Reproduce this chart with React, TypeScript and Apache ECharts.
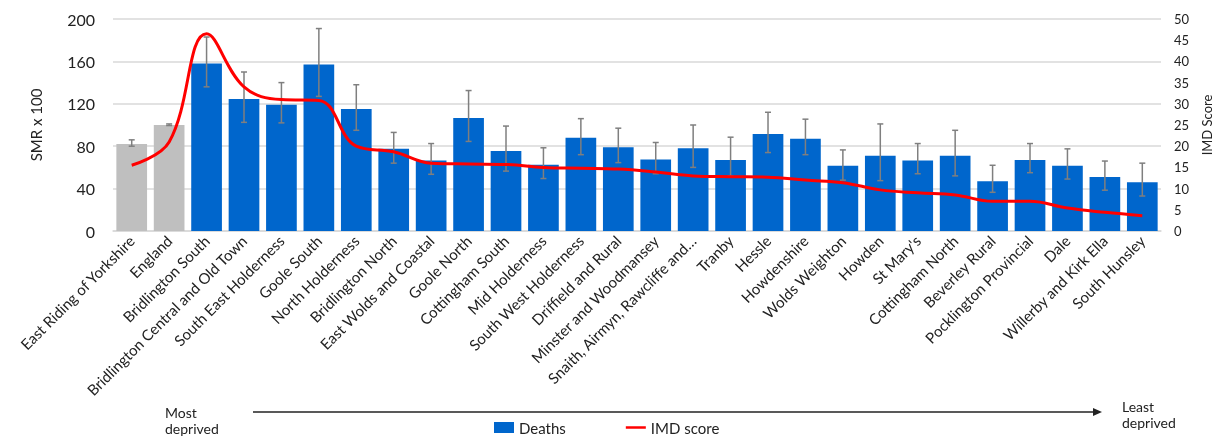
import React, { useEffect, useRef } from "react";
import * as echarts from "echarts";

const categories = [
  "East Riding of Yorkshire", "England", "Bridlington South", "Bridlington Central and Old Town",
  "South East Holderness", "Goole South", "North Holderness", "Bridlington North",
  "East Wolds and Coastal", "Goole North", "Cottingham South", "Mid Holderness",
  "South West Holderness", "Driffield and Rural", "Minster and Woodmansey",
  "Snaith, Airmyn, Rawcliffe and…", "Tranby", "Hessle", "Howdenshire", "Wolds Weighton",
  "Howden", "St Mary's", "Cottingham North", "Beverley Rural", "Pocklington Provincial",
  "Dale", "Willerby and Kirk Ella", "South Hunsley",
];

const smr = [82, 100, 158, 124.5, 119, 157, 115, 77.5, 66.5, 106.5, 75.5, 62.5, 88, 79, 67.5, 78, 67, 91.5, 87, 61.5, 71, 66.5, 71, 47, 67, 61.5, 51, 46];
const smrLower = [80, 99.5, 136, 102.5, 102, 127, 95, 64, 53.5, 84.5, 56.5, 49.5, 72, 64.5, 54, 60, 52, 74, 72, 48, 47.5, 54, 52, 36.5, 55, 49, 38.5, 33];
const smrUpper = [86, 101, 183, 150, 140, 191, 138, 93, 82.5, 132.5, 99, 78.5, 106, 97, 83.5, 100, 88.5, 112, 105.5, 76.5, 101, 82.5, 95, 62, 82.5, 77.5, 66, 64];
const imd = [15.5, 21, 46.5, 34, 31, 30.8, 20, 18.7, 16, 15.8, 15.7, 15, 14.8, 14.6, 13.9, 13, 12.8, 12.7, 12, 11.4, 9.7, 9, 8.5, 7, 7, 5.4, 4.4, 3.6];
const greyCount = 2;

const leftTicks = { min: 0, max: 200, interval: 40 };
const rightTicks = { min: 0, max: 50, interval: 5 };

const FONT = "Lato";
const BLUE = "#0066cc";
const GREY = "#bfbfbf";

export default function App() {
  const ref = useRef<HTMLDivElement>(null);
  useEffect(() => {
    if (!ref.current) return;
    const chart = echarts.init(ref.current, null, { renderer: "svg" });
    const option: any = {
      animation: false,
      textStyle: { fontFamily: FONT },
      grid: { left: 113, right: 46, top: 19, bottom: 208, containLabel: false },
      legend: {
        data: [
          { name: "Deaths", icon: "rect" },
          { name: "IMD score", icon: "path://M0,0 L24,0 L24,3 L0,3 Z" },
        ],
        left: 489,
        top: 415,
        itemWidth: 20,
        itemHeight: 11,
        itemGap: 60,
        textStyle: { fontFamily: FONT, fontSize: 15, color: "#222" },
      },
      xAxis: {
        type: "category",
        data: categories,
        axisTick: { show: false },
        axisLine: { lineStyle: { color: "#d9d9d9", width: 1.5 } },
        axisLabel: { interval: 0, rotate: 45, fontSize: 15, color: "#222", margin: 7, fontFamily: FONT },
      },
      yAxis: [
        {
          type: "value",
          ...leftTicks,
          name: "SMR x 100",
          nameLocation: "middle",
          nameGap: 70,
          nameRotate: 90,
          nameTextStyle: { fontSize: 15, color: "#222", fontFamily: FONT },
          axisLabel: { fontSize: 16, color: "#222", margin: 18, fontFamily: FONT },
          splitLine: { lineStyle: { color: "#d9d9d9", width: 1.5 } },
          axisLine: { show: false },
          axisTick: { show: false },
        },
        {
          type: "value",
          ...rightTicks,
          position: "right",
          name: "IMD Score",
          nameLocation: "middle",
          nameGap: 31,
          nameRotate: 90,
          nameTextStyle: { fontSize: 13, color: "#222", fontFamily: FONT },
          axisLabel: { fontSize: 13, color: "#222", margin: 13, fontFamily: FONT },
          splitLine: { show: false },
          axisLine: { show: false },
          axisTick: { show: false },
        },
      ],
      series: [
        {
          name: "Deaths",
          type: "bar",
          barCategoryGap: "18%",
          itemStyle: { color: BLUE },
          z: 2,
          data: smr.map((v, i) => (i < greyCount ? { value: v, itemStyle: { color: GREY } } : v)),
        },
        {
          name: "CI",
          type: "custom",
          z: 3,
          data: categories.map((_, i) => [i, smrLower[i], smrUpper[i]]),
          encode: { x: 0, y: [1, 2] },
          renderItem: (params: any, api: any) => {
            const lo = api.coord([api.value(0), api.value(1)]);
            const hi = api.coord([api.value(0), api.value(2)]);
            const cap = 3;
            const style = { stroke: "#7f7f7f", lineWidth: 1.5 };
            return {
              type: "group",
              children: [
                { type: "line", shape: { x1: lo[0], y1: lo[1], x2: hi[0], y2: hi[1] }, style },
                { type: "line", shape: { x1: lo[0] - cap, y1: lo[1], x2: lo[0] + cap, y2: lo[1] }, style },
                { type: "line", shape: { x1: hi[0] - cap, y1: hi[1], x2: hi[0] + cap, y2: hi[1] }, style },
              ],
            };
          },
        },
        {
          name: "IMD score",
          type: "line",
          yAxisIndex: 1,
          smooth: 0.4,
          symbol: "none",
          z: 4,
          lineStyle: { color: "#ff0000", width: 3 },
          itemStyle: { color: "#ff0000" },
          data: imd,
        },
      ],
      graphic: [
        { type: "line", shape: { x1: 253, y1: 412, x2: 1094, y2: 412 }, style: { stroke: "#222", lineWidth: 1.5 } },
        { type: "polygon", shape: { points: [[1093, 408], [1102, 412], [1093, 416]] }, style: { fill: "#222" } },
        { type: "text", left: 165, top: 404, style: { text: "Most\ndeprived", font: `14px ${FONT}`, fill: "#222", lineHeight: 16 } },
        { type: "text", left: 1122, top: 398, style: { text: "Least\ndeprived", font: `14px ${FONT}`, fill: "#222", lineHeight: 16 } },
      ],
    };
    chart.setOption(option);
    return () => chart.dispose();
  }, []);
  return <div ref={ref} style={{ position: "fixed", left: 0, top: 0, width: 1221, height: 439 }} />;
}
